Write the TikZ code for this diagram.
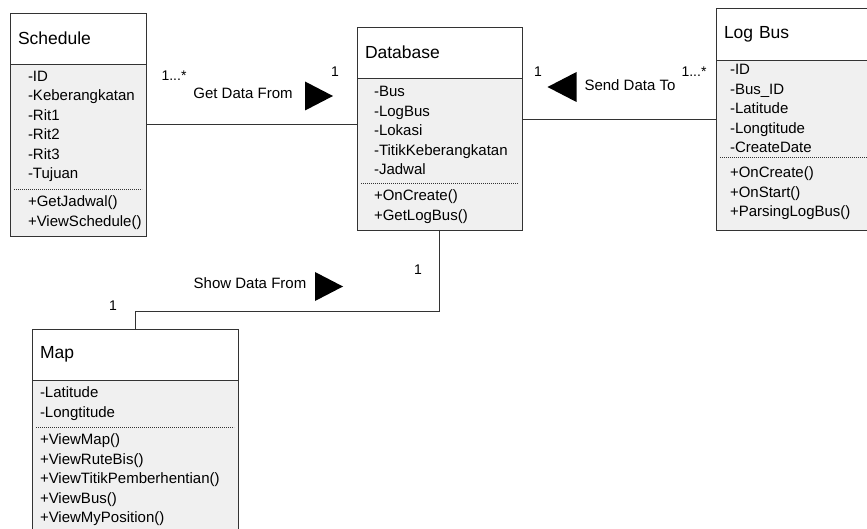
\documentclass[tikz,border=0pt]{standalone}
\usepackage{fontspec}
\setmainfont{Liberation Sans}
\usetikzlibrary{positioning,fit}
\definecolor{classfill}{HTML}{F0F0F0}
\definecolor{classline}{HTML}{333333}

\tikzset{
  classhead/.style={anchor=north west, fill=white, inner xsep=8pt, inner ysep=0pt, outer sep=0pt,
    minimum height=51pt, text width=#1, align=left, font=\fontsize{17.5}{21}\selectfont},
  classbody/.style={fill=classfill, inner ysep=0pt, outer sep=0pt, align=left,
    font=\fontsize{15}{19.5}\selectfont,
    execute at begin node={\hyphenpenalty=10000\relax\exhyphenpenalty=10000\relax}},
  classframe/.style={draw=classline, line width=0.8pt, inner sep=0pt, outer sep=0pt},
  dotsep/.style={classline, line width=0.5pt, dash pattern=on 0.8pt off 1.2pt},
  lbl/.style={font=\fontsize{15}{18}\selectfont, inner sep=0pt},
  multi/.style={font=\fontsize{14}{16}\selectfont, inner sep=0pt},
  assoc/.style={classline, line width=0.8pt},
}

\begin{document}
\begin{tikzpicture}[x=1pt,y=-1pt]
\useasboundingbox (0,0) rectangle (867,529);

% Schedule
\node[classhead=120pt] (schedHead) at (10,13) {Schedule};
\node[classbody, below=0pt of schedHead, text width=100pt, inner xsep=18pt, minimum height=125pt] (schedAttr)
  {-ID\\-Keberangkatan\\-Rit1\\-Rit2\\-Rit3\\-Tujuan};
\node[classbody, below=0pt of schedAttr, text width=100pt, inner xsep=18pt, minimum height=47pt] (schedMeth)
  {+GetJadwal()\\+ViewSchedule()};
\node[classframe, fit=(schedHead)(schedMeth)] (schedule) {};
\draw[assoc] (schedHead.south west) -- (schedHead.south east);
\draw[dotsep] ([xshift=4pt]schedAttr.south west) -- ([xshift=-4pt]schedAttr.south east);

% Database
\node[classhead=149pt] (dbHead) at (357,27) {Database};
\node[classbody, below=0pt of dbHead, text width=131pt, inner xsep=17pt, minimum height=105pt] (dbAttr)
  {-Bus\\-LogBus\\-Lokasi\\-TitikKeberangkatan\\-Jadwal};
\node[classbody, below=0pt of dbAttr, text width=131pt, inner xsep=17pt, minimum height=47pt] (dbMeth)
  {+OnCreate()\\+GetLogBus()};
\node[classframe, fit=(dbHead)(dbMeth)] (database) {};
\draw[assoc] (dbHead.south west) -- (dbHead.south east);
\draw[dotsep] ([xshift=4pt]dbAttr.south west) -- ([xshift=-4pt]dbAttr.south east);

% Log Bus
\node[classhead=144pt, minimum height=52pt] (logHead) at (716,8) {Log Bus};
\node[classbody, below=0pt of logHead, text width=132pt, inner xsep=14pt, minimum height=97pt] (logAttr)
  {-ID\\-Bus\_ID\\-Latitude\\-Longtitude\\-CreateDate};
\node[classbody, below=0pt of logAttr, text width=132pt, inner xsep=14pt, minimum height=73pt] (logMeth)
  {+OnCreate()\\+OnStart()\\+ParsingLogBus()};
\node[classframe, fit=(logHead)(logMeth)] (logbus) {};
\draw[assoc] (logHead.south west) -- (logHead.south east);
\draw[dotsep] ([xshift=4pt]logAttr.south west) -- ([xshift=-4pt]logAttr.south east);

% Map
\node[classhead=190pt] (mapHead) at (32,329) {Map};
\node[classbody, below=0pt of mapHead, text width=190pt, inner xsep=8pt, minimum height=47pt] (mapAttr)
  {-Latitude\\-Longtitude};
\node[classbody, below=0pt of mapAttr, text width=190pt, inner xsep=8pt, minimum height=106pt] (mapMeth)
  {+ViewMap()\\+ViewRuteBis()\\+ViewTitikPemberhentian()\\+ViewBus()\\+ViewMyPosition()};
\node[classframe, fit=(mapHead)(mapMeth)] (map) {};
\draw[assoc] (mapHead.south west) -- (mapHead.south east);
\draw[dotsep] ([xshift=4pt]mapAttr.south west) -- ([xshift=-4pt]mapAttr.south east);

% associations
\draw[assoc] (schedule.east) -- (schedule.east -| database.west);
\draw[assoc] (logbus.west) -- (logbus.west -| database.east);
\draw[assoc] (database.south) -- ++(0,81) -| (map.north);

% labels
\node[multi] (schedMulti) at (174,76) {1...*};
\node[lbl] (getFrom) at (243,93) {Get Data From};
\node[multi] (dbLeftMulti) at (335,72) {1};
\coordinate (getTri) at (319,96);
\fill (getTri) ++(14,0) -- ++(-28,-14.5) -- ++(0,29) -- cycle;

\node[multi] (dbRightMulti) at (538,72) {1};
\coordinate (sendTri) at (562,87);
\fill (sendTri) ++(-14.5,0) -- ++(29,-15) -- ++(0,30) -- cycle;
\node[lbl] (sendTo) at (630,85) {Send Data To};
\node[multi] (logMulti) at (694,72) {1...*};

\node[multi] (dbBottomMulti) at (418,270) {1};
\node[lbl] (showFrom) at (250,283) {Show Data From};
\coordinate (showTri) at (329,286.5);
\fill (showTri) ++(14,0) -- ++(-28,-14.5) -- ++(0,29) -- cycle;
\node[multi] (mapMulti) at (113,306) {1};
\end{tikzpicture}
\end{document}
